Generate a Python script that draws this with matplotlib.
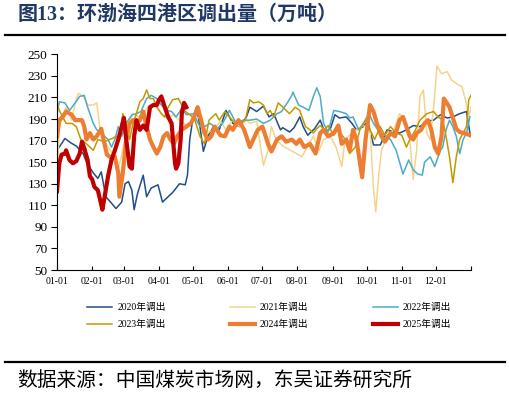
import matplotlib
matplotlib.use("Agg")
import matplotlib.pyplot as plt

plt.rcParams['font.family'] = ['Liberation Serif', 'Noto Sans CJK SC']

# x = day of year (0 = 01-01) (万吨)
MONTH_DAYS = [0, 31, 59, 90, 120, 151, 181, 212, 243, 273, 304, 334]
MONTH_LABELS = ['01-01', '02-01', '03-01', '04-01', '05-01', '06-01',
                '07-01', '08-01', '09-01', '10-01', '11-01', '12-01']

days_2020 = [0, 7, 12, 17, 23, 26, 32, 36, 39, 43, 48, 52, 57, 60, 63, 66, 68, 71, 76, 79,
             83, 89, 93, 98, 102, 108, 113, 115, 117, 120, 123, 126, 129, 133, 138, 143, 149,
             155, 161, 167, 170, 176, 182, 187, 191, 197, 199, 205, 209, 214, 217, 221, 227,
             232, 236, 241, 245, 249, 255, 260, 264, 270, 274, 279, 285, 291, 297, 302, 308,
             314, 320, 326, 332, 338, 344, 349, 355, 361, 364]
vals_2020 = [161, 172, 168, 165, 158, 150, 140, 135, 141, 118, 112, 107, 113, 130, 132, 124, 106, 121, 138, 118,
             126, 129, 113, 118, 122, 130, 129, 138, 171, 192, 201, 183, 160, 174, 183, 180, 198,
             186, 183, 192, 201, 197, 202, 192, 195, 180, 182, 178, 182, 192, 183, 175, 181,
             189, 178, 181, 194, 191, 192, 186, 180, 183, 188, 166, 166, 180, 178, 177, 180,
             184, 183, 188, 189, 194, 191, 192, 195, 197, 177]

days_2021 = [0, 2, 8, 13, 16, 19, 23, 27, 32, 35, 38, 41, 45, 49, 54, 57, 60, 63, 67, 72,
             76, 80, 85, 89, 94, 98, 102, 108, 114, 120, 126, 132, 138, 144, 149, 155, 161,
             167, 170, 176, 182, 186, 189, 193, 199, 206, 211, 216, 222, 226, 231, 235, 241,
             246, 251, 254, 258, 264, 270, 276, 279, 281, 283, 286, 291, 297, 302, 307, 311,
             314, 317, 320, 323, 326, 329, 332, 335, 339, 344, 348, 352, 357, 360, 363, 365]
vals_2021 = [133, 183, 201, 189, 205, 214, 211, 203, 203, 205, 180, 171, 164, 158, 143, 157, 172, 186, 195, 192,
             194, 201, 205, 200, 192, 191, 194, 189, 184, 189, 192, 177, 180, 188, 180, 189, 183,
             189, 186, 188, 147, 161, 183, 171, 165, 161, 158, 155, 167, 174, 161, 171, 174,
             164, 146, 171, 175, 180, 184, 180, 125, 104, 131, 161, 174, 180, 195, 187, 171,
             134, 161, 211, 217, 177, 171, 201, 239, 232, 234, 226, 223, 220, 208, 192, 201]

days_2022 = [0, 2, 7, 11, 16, 20, 24, 27, 32, 35, 38, 42, 45, 48, 51, 54, 57, 61, 66, 70,
             74, 79, 83, 88, 92, 97, 101, 105, 110, 114, 120, 126, 130, 135, 141, 146, 152,
             158, 164, 170, 176, 182, 188, 194, 198, 203, 207, 208, 213, 217, 222, 226, 229,
             232, 235, 239, 244, 249, 255, 258, 261, 266, 270, 275, 279, 285, 289, 294, 299,
             305, 310, 314, 318, 322, 324, 329, 333, 338, 340, 343, 346, 349, 352, 355, 358,
             361, 364]
vals_2022 = [195, 206, 205, 198, 205, 211, 212, 201, 186, 180, 178, 174, 171, 164, 171, 183, 174, 186, 194, 195,
             197, 209, 212, 209, 203, 198, 197, 192, 200, 194, 195, 183, 183, 186, 181, 186, 198,
             186, 189, 189, 190, 186, 189, 195, 197, 205, 212, 215, 203, 201, 198, 211, 219,
             211, 186, 178, 198, 197, 195, 191, 192, 180, 186, 195, 186, 177, 175, 171, 161,
             139, 152, 143, 139, 138, 150, 155, 146, 161, 164, 180, 189, 183, 174, 158, 171,
             177, 192]

days_2023 = [0, 2, 5, 8, 13, 17, 21, 26, 32, 36, 42, 46, 49, 52, 55, 58, 61, 64, 67, 70,
             73, 76, 79, 82, 85, 88, 92, 95, 98, 102, 107, 110, 112, 117, 121, 126, 130, 134,
             140, 143, 148, 152, 157, 161, 166, 170, 173, 178, 182, 185, 188, 191, 195, 199,
             205, 210, 214, 219, 223, 226, 229, 232, 236, 239, 244, 247, 250, 254, 258, 263,
             267, 272, 276, 280, 285, 289, 294, 299, 304, 308, 311, 316, 320, 326, 332, 336,
             340, 343, 346, 349, 352, 355, 358, 361, 363, 365]
vals_2023 = [205, 198, 192, 186, 186, 183, 171, 167, 161, 171, 169, 171, 172, 174, 171, 195, 186, 171, 186, 195,
             206, 209, 217, 209, 209, 201, 195, 192, 201, 208, 209, 203, 198, 194, 191, 174, 167, 189,
             195, 189, 197, 192, 186, 186, 189, 208, 205, 206, 203, 195, 198, 192, 205, 201,
             195, 201, 198, 183, 180, 177, 181, 184, 180, 184, 175, 180, 177, 171, 158, 164,
             180, 189, 180, 171, 183, 175, 183, 177, 175, 164, 171, 180, 189, 195, 197, 192,
             189, 174, 155, 131, 155, 171, 177, 183, 208, 212]

days_2024 = [0, 2, 5, 8, 13, 16, 19, 22, 24, 26, 29, 32, 35, 39, 41, 44, 48, 51, 54, 55,
             58, 61, 64, 67, 70, 73, 76, 79, 82, 85, 88, 91, 94, 97, 100, 103, 106, 110, 114,
             118, 121, 124, 127, 130, 133, 136, 139, 144, 148, 152, 155, 160, 165, 170, 173,
             177, 181, 183, 186, 189, 194, 198, 202, 207, 211, 214, 218, 223, 228, 232, 235,
             239, 244, 248, 251, 255, 258, 261, 264, 269, 272, 276, 279, 282, 286, 289, 294,
             298, 302, 305, 308, 311, 314, 317, 321, 324, 327, 330, 333, 336, 339, 341, 343,
             346, 349, 352, 355, 359, 364]
vals_2024 = [174, 189, 192, 197, 194, 189, 189, 189, 183, 171, 177, 171, 174, 181, 171, 157, 154, 155, 140, 118,
             140, 171, 186, 189, 186, 189, 197, 183, 171, 164, 158, 164, 174, 177, 171, 167, 174, 180, 183,
             186, 192, 201, 189, 177, 171, 174, 183, 175, 174, 183, 180, 189, 180, 164, 171,
             180, 183, 177, 167, 160, 171, 174, 169, 171, 167, 171, 164, 167, 158, 177, 180,
             174, 177, 184, 167, 171, 161, 180, 171, 136, 171, 203, 197, 186, 174, 169, 177,
             174, 189, 192, 183, 174, 171, 177, 180, 186, 189, 180, 164, 158, 174, 209, 206,
             201, 191, 181, 178, 177, 175]

days_2025 = [0, 2, 4, 7, 8, 11, 14, 17, 20, 22, 24, 27, 29, 31, 33, 36, 38, 40, 42, 45,
             48, 51, 54, 57, 59, 61, 64, 66, 68, 70, 73, 76, 79, 82, 85, 88, 90, 92, 95, 98,
             101, 102, 104, 105, 107, 109, 110, 112, 113, 114]
vals_2025 = [123, 149, 157, 158, 161, 152, 149, 151, 158, 169, 163, 152, 137, 134, 127, 124, 115, 106, 118, 137,
             152, 161, 171, 183, 191, 171, 146, 144, 174, 189, 180, 184, 180, 201, 203, 203, 208, 211, 201, 192,
             186, 174, 149, 144, 149, 171, 195, 205, 203, 201]

series = [
    ('2020年调出', days_2020, vals_2020, '#1F4E8C', 1.1),
    ('2021年调出', days_2021, vals_2021, '#F5D38C', 1.1),
    ('2022年调出', days_2022, vals_2022, '#4BACC6', 1.1),
    ('2023年调出', days_2023, vals_2023, '#C09A00', 1.1),
    ('2024年调出', days_2024, vals_2024, '#ED7D31', 3.0),
    ('2025年调出', days_2025, vals_2025, '#C00000', 3.0),
]

fig = plt.figure(figsize=(5.1, 3.94), dpi=100)
ax = fig.add_axes([0.1118, 0.3147, 0.8118, 0.5473])

handles = []
for label, d, v, color, lw in series:
    line, = ax.plot(d, v, color=color, lw=lw, label=label, solid_joinstyle='round')
    handles.append(line)

ax.set_xlim(0, 365)
ax.set_ylim(50, 250)
ax.set_yticks(range(50, 251, 20))
ax.set_xticks(MONTH_DAYS + [365])
ax.set_xticklabels(MONTH_LABELS + [''], fontsize=7)
ax.tick_params(axis='x', direction='in', length=3, pad=5)
ax.tick_params(axis='y', direction='out', length=4, labelsize=9.5, pad=3)
ax.spines['top'].set_visible(False)
ax.spines['right'].set_visible(False)

# legend is filled row by row in the reference
order = [0, 3, 1, 4, 2, 5]
fig.legend([handles[i] for i in order], [series[i][0] for i in order],
           ncol=3, loc='center', bbox_to_anchor=(0.528, 0.198), frameon=False,
           fontsize=7, handlelength=2.6, handletextpad=0.5, columnspacing=6.6,
           labelspacing=0.8)

fig.text(0.035, 1 - 15 / 394, '图13：环渤海四港区调出量（万吨）', fontsize=14.4,
         fontweight='bold', color='#1F3864', va='center', ha='left')
fig.add_artist(plt.Line2D([5 / 510, 505 / 510], [1 - 34.5 / 394] * 2, color='black', lw=1.6))
fig.add_artist(plt.Line2D([5 / 510, 505 / 510], [1 - 361.5 / 394] * 2, color='black', lw=1.6))
fig.text(0.033, 1 - 381 / 394, '数据来源：中国煤炭市场网，东吴证券研究所', fontsize=14.2,
         color='black', va='center', ha='left')

fig.savefig('out.png', dpi=100)
